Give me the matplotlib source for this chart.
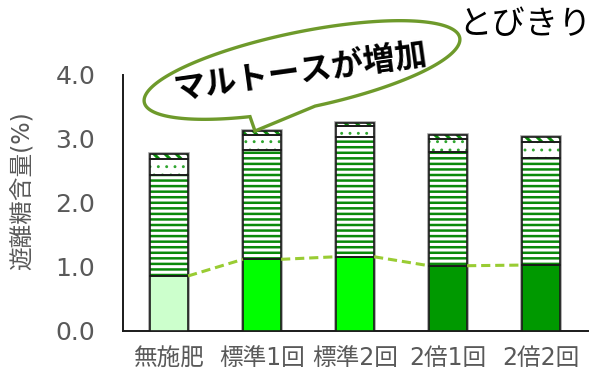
import numpy as np
import matplotlib
matplotlib.use('Agg')
from matplotlib import pyplot as plt
from matplotlib.path import Path
from matplotlib.patches import PathPatch

# DejaVu for the wide digits, Noto CJK for the kanji/kana
plt.rcParams['font.family'] = ['DejaVu Sans', 'Noto Sans CJK JP']

# free sugar content (%) per treatment, stacked bottom to top
treatments = ['無施肥', '標準1回', '標準2回', '2倍1回', '2倍2回']
sucrose = [0.86, 1.12, 1.16, 1.02, 1.03]
maltose = [1.58, 1.71, 1.87, 1.78, 1.67]
glucose = [0.25, 0.23, 0.17, 0.20, 0.25]
fructose = [0.08, 0.07, 0.05, 0.07, 0.08]
base_colors = ['#CCFFCC', '#00FF00', '#00FF00', '#009900', '#009900']
yticks = [0.0, 1.0, 2.0, 3.0, 4.0]

grey = '#595959'
hatch_green = '#0A8A0A'
w = 0.41

fig = plt.figure(figsize=(6.05, 3.76), dpi=100)
ax = fig.add_axes([123/605, 1-331/376, 465/605, 256/376])
x = np.arange(len(treatments))

s = np.array(sucrose)
m = np.array(maltose)
g = np.array(glucose)
f = np.array(fructose)
total = s + m + g + f

# soft grey halo round each bar
ax.bar(x, total, w, color='none', edgecolor='#A0A0A0', linewidth=2.6, zorder=1)

# bottom segment: solid colours
ax.bar(x, s, w, color=base_colors, edgecolor='#1A1A1A', linewidth=1.2, zorder=3)
# hatched segments: draw hatch in green, then a black outline on top
layers = [(m, s, '---', hatch_green, 1.8),
          (g, s + m, '..', '#2FA52F', 0.9),
          (f, s + m + g, '\\\\\\', hatch_green, 2.2)]
for vals, bottom, hatch, hc, hlw in layers:
    with plt.rc_context({'hatch.linewidth': hlw}):
        ax.bar(x, vals, w, bottom=bottom, color='white', edgecolor=hc,
               hatch=hatch, linewidth=0, zorder=2)
    ax.bar(x, vals, w, bottom=bottom, color='none', edgecolor='#1A1A1A',
           linewidth=1.2, zorder=3)

# dashed series lines joining the tops of the bottom segment
for i in range(len(x) - 1):
    ax.plot([x[i] + w/2, x[i+1] - w/2], [s[i], s[i+1]], color='#99CC33',
            lw=2.2, dashes=(3, 1.6), zorder=4, solid_capstyle='butt')

ax.set_xlim(-0.495, 4.505)
ax.set_ylim(0, 4.0)
ax.set_yticks(yticks)
ax.set_yticklabels(['%.1f' % v for v in yticks])
ax.set_xticks(x)
ax.set_xticklabels(treatments)
ax.tick_params(length=0, colors=grey)
ax.tick_params(axis='y', pad=20, labelsize=18)
ax.tick_params(axis='x', pad=11, labelsize=17)
for side in ['top', 'right']:
    ax.spines[side].set_visible(False)
for side in ['left', 'bottom']:
    ax.spines[side].set_linewidth(1.4)
    ax.spines[side].set_color('#1A1A1A')
ax.set_ylabel('遊離糖含量(%)', color=grey, fontsize=17)
ax.yaxis.set_label_coords(-0.19, 0.55)

# callout bubble in pixel space
ov = fig.add_axes([0, 0, 1, 1], zorder=5)
ov.set_xlim(0, 605)
ov.set_ylim(376, 0)
ov.axis('off')
ov.patch.set_alpha(0)

cx, cy, a, b = 302, 70, 161, 38
th = np.deg2rad(11.6)
u = np.array([np.cos(th), -np.sin(th)])
v = np.array([np.sin(th), np.cos(th)])
t1 = np.linspace(np.deg2rad(-248), np.deg2rad(88), 200)
pts = [np.array([cx, cy]) + a*np.cos(t)*u + b*np.sin(t)*v for t in t1]
pts.append(np.array([255, 131]))
pts.append(pts[0])
pts = np.array(pts)
codes = [Path.MOVETO] + [Path.LINETO]*(len(pts) - 2) + [Path.CLOSEPOLY]
ov.add_patch(PathPatch(Path(pts, codes), facecolor='white', edgecolor='#6E9A2B',
                       lw=2.4, joinstyle='miter'))
ov.text(300, 73, 'マルトースが増加', fontsize=23, fontweight='bold', rotation=8,
        ha='center', va='center', color='black', rotation_mode='anchor')
ov.text(525, 24, 'とびきり', fontsize=24, ha='center', va='center', color='black')

fig.savefig('out.png', dpi=100)
